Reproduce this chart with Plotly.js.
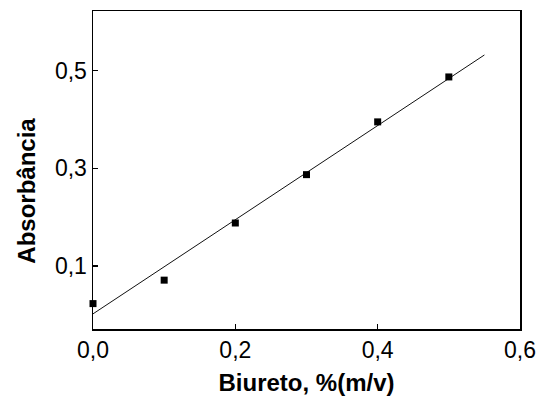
<!DOCTYPE html>
<html>
<head>
<meta charset="utf-8">
<script src="https://cdn.plot.ly/plotly-3.0.1.min.js"></script>
<style>html,body{margin:0;padding:0;background:#fff;}#chart{width:538px;height:399px;}</style>
</head>
<body>
<div id="chart"></div>
<script>
// Measured data points
const biureto = [0.0, 0.1, 0.2, 0.3, 0.4, 0.5];
const absorbancia = [0.023, 0.071, 0.188, 0.287, 0.395, 0.487];
// Fitted line end points
const fitX = [0.0, 0.55];
const fitY = [0.002, 0.532];
const xTicks = [0.0, 0.2, 0.4, 0.6];
const yTicks = [0.1, 0.3, 0.5];

const font = {family: 'Arial, "Liberation Sans", sans-serif', color: '#000'};

const data = [
  {x: fitX, y: fitY, mode: 'lines', type: 'scatter',
   line: {color: '#111', width: 1}, showlegend: false, hoverinfo: 'skip'},
  {x: biureto, y: absorbancia, mode: 'markers', type: 'scatter', cliponaxis: false,
   marker: {symbol: 'square', size: 7, color: '#000'}, showlegend: false}
];

const layout = {
  width: 538, height: 399,
  margin: {l: 93, r: 18, t: 11, b: 70},
  paper_bgcolor: '#fff', plot_bgcolor: '#fff',
  separators: ', ',
  font: Object.assign({size: 23}, font),
  xaxis: {
    range: [0, 0.6], tickvals: xTicks, tickformat: '.1f',
    ticks: 'inside', ticklen: 5, tickwidth: 1.2, tickcolor: '#000',
    showline: true, linecolor: '#000', linewidth: 1.5, mirror: true,
    showgrid: false, zeroline: false,
    tickfont: Object.assign({size: 23}, font),
    title: {text: '<b>Biureto, %(m/v)</b>', font: Object.assign({size: 24}, font), standoff: 12}
  },
  yaxis: {
    range: [-0.029, 0.622], tickvals: yTicks, tickformat: '.1f',
    ticks: 'inside', ticklen: 5, tickwidth: 1.2, tickcolor: '#000',
    showline: true, linecolor: '#000', linewidth: 1.5, mirror: true,
    showgrid: false, zeroline: false,
    tickfont: Object.assign({size: 23}, font)
  },
  annotations: [{
    text: '<b>Absorbância</b>', textangle: -90, showarrow: false,
    xref: 'paper', yref: 'paper', x: 0, y: 0.435, xanchor: 'center', yanchor: 'middle',
    xshift: -66, font: Object.assign({size: 24}, font)
  }]
};

Plotly.newPlot('chart', data, layout, {displayModeBar: false, staticPlot: true});
</script>
</body>
</html>
